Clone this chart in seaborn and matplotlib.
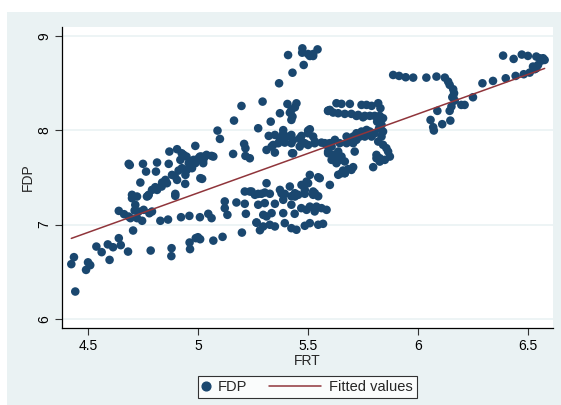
import numpy as np
import pandas as pd
import matplotlib
matplotlib.use("Agg")
import matplotlib.pyplot as plt
from matplotlib.lines import Line2D
from matplotlib.patches import Rectangle
from matplotlib.legend_handler import HandlerLine2D
import seaborn as sns

# FRT / FDP observations, grouped by region of the scatter
frt_tail = [4.442, 4.424, 4.436, 4.491, 4.500, 4.510, 4.538, 4.562, 4.590, 4.598, 4.614, 4.640, 4.649,
            4.682, 4.705, 4.785, 4.880, 4.879, 4.962, 4.964, 4.990, 5.000, 5.010, 5.070, 5.112, 5.200]
fdp_tail = [6.291, 6.581, 6.655, 6.520, 6.600, 6.570, 6.767, 6.708, 6.790, 6.626, 6.760, 6.856, 6.782,
            6.714, 6.937, 6.725, 6.750, 6.666, 6.810, 6.740, 6.856, 6.866, 6.845, 6.830, 6.870, 6.915]

frt_lowband = [4.640, 4.664, 4.700, 4.723, 4.712, 4.715, 4.730, 4.746, 4.779, 4.791, 4.693, 4.773, 4.897,
               4.685, 4.723, 4.753, 4.829, 4.864, 4.923, 4.961, 5.009, 5.047, 5.062, 5.122, 5.122, 5.134,
               5.175, 5.213, 5.218]
fdp_lowband = [7.145, 7.110, 7.279, 7.297, 7.149, 7.209, 7.138, 7.040, 7.120, 7.138, 7.068, 7.304, 7.304,
               7.085, 7.068, 7.156, 7.040, 7.053, 7.078, 7.092, 7.078, 7.114, 7.068, 7.245, 7.174, 7.103,
               7.234, 7.220, 7.114]

frt_left = [4.685, 4.690, 4.750, 4.764, 4.814, 4.809, 4.870, 4.905, 4.867, 4.920, 4.935, 4.958, 4.980,
            5.003, 4.988, 4.912, 4.927, 4.894, 4.882, 4.905, 4.738, 4.837, 4.859, 4.852, 4.806, 4.791,
            4.776, 4.814, 4.700, 4.768, 4.897, 4.942, 4.965, 4.988, 5.011, 4.950, 4.973, 4.943, 4.948,
            4.964, 5.009, 5.032, 5.070, 5.024, 5.016, 5.039, 5.062, 5.024, 5.019, 4.926, 4.835]
fdp_left = [7.643, 7.630, 7.643, 7.561, 7.657, 7.561, 7.773, 7.798, 7.643, 7.685, 7.738, 7.650, 7.685,
            7.703, 7.833, 7.572, 7.597, 7.516, 7.526, 7.473, 7.445, 7.445, 7.438, 7.473, 7.396, 7.367,
            7.315, 7.367, 7.315, 7.297, 7.325, 7.431, 7.614, 7.650, 7.491, 7.580, 7.597, 7.526, 7.720,
            7.667, 7.720, 7.720, 7.720, 7.678, 7.720, 7.738, 7.727, 7.650, 7.484, 7.755, 7.403]

frt_peak = [5.089, 5.100, 5.164, 5.198, 5.294, 5.274, 5.331, 5.369, 5.373, 5.160, 5.210, 5.216, 5.216,
            5.236, 5.407, 5.425, 5.448, 5.418, 5.430, 5.441, 5.430, 5.481, 5.410, 5.475, 5.501, 5.524,
            5.544, 5.474, 5.509, 5.524, 5.425, 5.388, 5.509, 5.592]
fdp_peak = [7.995, 7.907, 8.101, 8.256, 8.302, 8.020, 8.090, 8.496, 8.179, 7.748, 7.854, 7.808, 7.727,
            7.702, 8.277, 8.213, 8.284, 8.185, 8.143, 8.242, 8.608, 8.690, 8.795, 8.866, 8.806, 8.806,
            8.855, 8.820, 8.785, 8.785, 8.108, 8.000, 8.009, 8.203]

frt_midband = [5.322, 5.350, 5.387, 5.425, 5.471, 5.501, 5.524, 5.562, 5.592, 5.342, 5.365, 5.395, 5.425,
               5.471, 5.501, 5.531, 5.312, 5.350, 5.428, 5.335, 5.372, 5.501, 5.592, 5.433, 5.463, 5.486,
               5.532, 5.585, 5.608, 5.463, 5.433, 5.403]
fdp_midband = [7.939, 7.949, 7.960, 7.949, 7.939, 7.967, 7.932, 7.868, 7.854, 7.843, 7.861, 7.868, 7.861,
               7.879, 7.843, 7.861, 7.790, 7.762, 7.755, 7.826, 7.914, 7.995, 7.755, 7.896, 7.914, 7.861,
               7.879, 7.843, 7.826, 7.826, 7.755, 7.932]

frt_strand = [5.509, 5.547, 5.494, 5.471, 5.441, 5.486, 5.524, 5.395, 5.312, 5.304, 5.274, 5.244, 5.600,
              5.554, 5.501, 5.418, 5.373, 5.532, 5.441, 5.638, 5.653, 5.660, 5.683, 5.706, 5.668]
fdp_strand = [7.526, 7.501, 7.455, 7.420, 7.332, 7.367, 7.350, 7.325, 7.438, 7.339, 7.325, 7.350, 7.420,
              7.491, 7.438, 7.403, 7.367, 7.332, 7.297, 7.527, 7.544, 7.572, 7.587, 7.608, 7.544]

frt_block = [5.213, 5.236, 5.259, 5.289, 5.327, 5.380, 5.425, 5.456, 5.486, 5.524, 5.547, 5.274, 5.304,
             5.350, 5.388, 5.425, 5.470, 5.509, 5.539, 5.562, 5.585, 5.297, 5.312, 5.335, 5.388, 5.440,
             5.494, 5.531, 5.266, 5.297, 5.327, 5.350, 5.395, 5.425, 5.448, 5.486, 5.509, 5.547, 5.569,
             5.267, 5.282]
fdp_block = [7.350, 7.350, 7.315, 7.326, 7.326, 7.330, 7.300, 7.315, 7.326, 7.315, 7.300, 7.210, 7.227,
             7.220, 7.262, 7.210, 7.174, 7.190, 7.190, 7.174, 7.156, 7.103, 7.086, 7.121, 7.121, 7.114,
             7.156, 7.139, 7.022, 6.980, 6.998, 6.980, 7.015, 6.962, 6.945, 6.987, 7.015, 6.998, 7.008,
             7.020, 6.940]

frt_hook = [5.630, 5.653, 5.691, 5.744, 5.767, 5.790, 5.820, 5.830, 5.592, 5.615, 5.638, 5.668, 5.698,
            5.729, 5.759, 5.782, 5.804, 5.827, 5.842, 5.815, 5.835, 5.824, 5.842, 5.804, 5.782, 5.767,
            5.744, 5.721, 5.706, 5.736, 5.759, 5.790, 5.835, 5.820, 5.842, 5.857, 5.865, 5.873, 5.850,
            5.827, 5.812, 5.797, 5.676, 5.698, 5.721, 5.676, 5.706, 5.645, 5.623, 5.600, 5.577, 5.592,
            5.615, 5.630, 5.645, 5.668, 5.608, 5.713, 5.638, 5.653, 5.630, 5.812, 5.827, 5.698, 5.668,
            5.600, 5.721, 5.751]
fdp_hook = [8.285, 8.278, 8.278, 8.267, 8.267, 8.257, 8.285, 8.232, 8.207, 8.186, 8.179, 8.172, 8.172,
            8.161, 8.151, 8.151, 8.151, 8.151, 8.126, 8.090, 8.056, 8.020, 7.985, 7.967, 7.985, 8.002,
            7.985, 7.967, 7.932, 7.932, 7.932, 7.932, 7.932, 7.879, 7.844, 7.809, 7.773, 7.720, 7.685,
            7.703, 7.738, 7.608, 7.862, 7.897, 7.897, 7.932, 7.862, 7.862, 7.897, 7.862, 7.862, 7.773,
            7.738, 7.703, 7.685, 7.668, 7.685, 7.773, 7.773, 7.720, 7.650, 7.702, 7.667, 7.579, 7.544,
            8.214, 8.150, 8.136]

frt_right = [5.888, 5.915, 5.945, 5.979, 6.039, 6.085, 6.123, 6.138, 6.145, 6.161, 6.165, 6.157, 6.168,
             6.161, 6.198, 6.213, 6.251, 6.145, 6.153, 6.089, 6.058, 6.070, 6.073, 6.111, 6.148, 6.294,
             6.342, 6.400, 6.445, 6.482, 6.509, 6.532, 6.547, 6.562, 6.570, 6.577, 6.388, 6.436, 6.473,
             6.501, 6.539, 6.554, 6.524, 6.539]
fdp_right = [8.584, 8.574, 8.560, 8.556, 8.556, 8.567, 8.556, 8.514, 8.479, 8.433, 8.391, 8.348, 8.313,
             8.355, 8.267, 8.267, 8.348, 8.204, 8.250, 8.204, 8.108, 8.031, 7.996, 8.063, 8.101, 8.496,
             8.521, 8.549, 8.574, 8.592, 8.609, 8.645, 8.690, 8.736, 8.761, 8.743, 8.789, 8.754, 8.800,
             8.786, 8.779, 8.761, 8.673, 8.655]

# Linear fit of FDP on FRT (intercept, slope)
fit_intercept = 3.155
fit_slope = 0.836

x_ticks = [4.5, 5, 5.5, 6, 6.5]
x_ticklabels = ["4.5", "5", "5.5", "6", "6.5"]
y_ticks = [6, 7, 8, 9]
y_ticklabels = ["6", "7", "8", "9"]

frt = np.array(frt_tail + frt_lowband + frt_left + frt_peak + frt_midband + frt_strand + frt_block + frt_hook + frt_right)
fdp = np.array(fdp_tail + fdp_lowband + fdp_left + fdp_peak + fdp_midband + fdp_strand + fdp_block + fdp_hook + fdp_right)
df = pd.DataFrame({"FRT": frt, "FDP": fdp})

# Fitted values over the observed FRT range
fit = pd.DataFrame({"FRT": [frt.min(), frt.max()]})
fit["Fitted values"] = fit_intercept + fit_slope * fit["FRT"]

sns.set_style("white")
plt.rcParams["font.family"] = ["Liberation Sans", "DejaVu Sans"]

navy = "#1A476F"
maroon = "#90353B"
region = "#EAF2F3"

fig = plt.figure(figsize=(5.61, 4.05), dpi=100, facecolor="white")
fig.patches.append(Rectangle((7 / 561, 0), 1 - 7 / 561, 1 - 12 / 405,
                             transform=fig.transFigure, facecolor=region,
                             edgecolor="none", zorder=-10))
ax = fig.add_axes([62.3 / 561, 1 - 327.7 / 405, (553 - 62.3) / 561, (327.7 - 27) / 405])
ax.set_facecolor("white")

for yv in y_ticks:
    ax.axhline(yv, color=region, lw=1.2, zorder=0)

sns.scatterplot(data=df, x="FRT", y="FDP", ax=ax, color=navy, s=38,
                edgecolor="none", linewidth=0, zorder=3, legend=False)
sns.lineplot(data=fit, x="FRT", y="Fitted values", ax=ax, color=maroon,
             lw=1.1, zorder=4, legend=False)

ax.set_xlim(4.383, 6.615)
ax.set_ylim(5.908, 9.092)
ax.set_xticks(x_ticks)
ax.set_xticklabels(x_ticklabels)
ax.set_yticks(y_ticks)
ax.set_yticklabels(y_ticklabels, rotation=90, va="center")
ax.tick_params(axis="both", direction="out", length=5, width=0.8, color="#333333",
               labelsize=10, pad=3, labelcolor="black")
ax.tick_params(axis="y", left=True)
ax.tick_params(axis="x", bottom=True)
ax.set_xlabel("FRT", fontsize=10, labelpad=1)
ax.set_ylabel("FDP", fontsize=10, labelpad=2)

for side in ["top", "right"]:
    ax.spines[side].set_visible(False)
for side in ["left", "bottom"]:
    ax.spines[side].set_color("black")
    ax.spines[side].set_linewidth(0.9)


class HandlerLongLine(HandlerLine2D):
    """Line key that reaches further left than its handle box."""

    def __init__(self, extend, **kw):
        super().__init__(**kw)
        self.extend = extend

    def get_xdata(self, legend, xdescent, ydescent, width, height, fontsize):
        xdata = np.array([-xdescent - self.extend, -xdescent + width])
        return xdata, xdata


dot_key = Line2D([], [], marker="o", color=navy, linestyle="none", markersize=6.3)
line_key = Line2D([], [], color=maroon, lw=1.1)
leg = fig.legend([dot_key, line_key], ["FDP", "Fitted values"], ncol=2, loc="center",
                 bbox_to_anchor=(307.5 / 561, 1 - 387 / 405), frameon=True,
                 fancybox=False, fontsize=10.5, handlelength=0.5, columnspacing=4.6,
                 handletextpad=0.55, borderpad=0.3, edgecolor="black", facecolor="white",
                 handler_map={line_key: HandlerLongLine(extend=32)})
leg.get_frame().set_linewidth(0.8)

fig.savefig("out.png", dpi=100, facecolor="white")
